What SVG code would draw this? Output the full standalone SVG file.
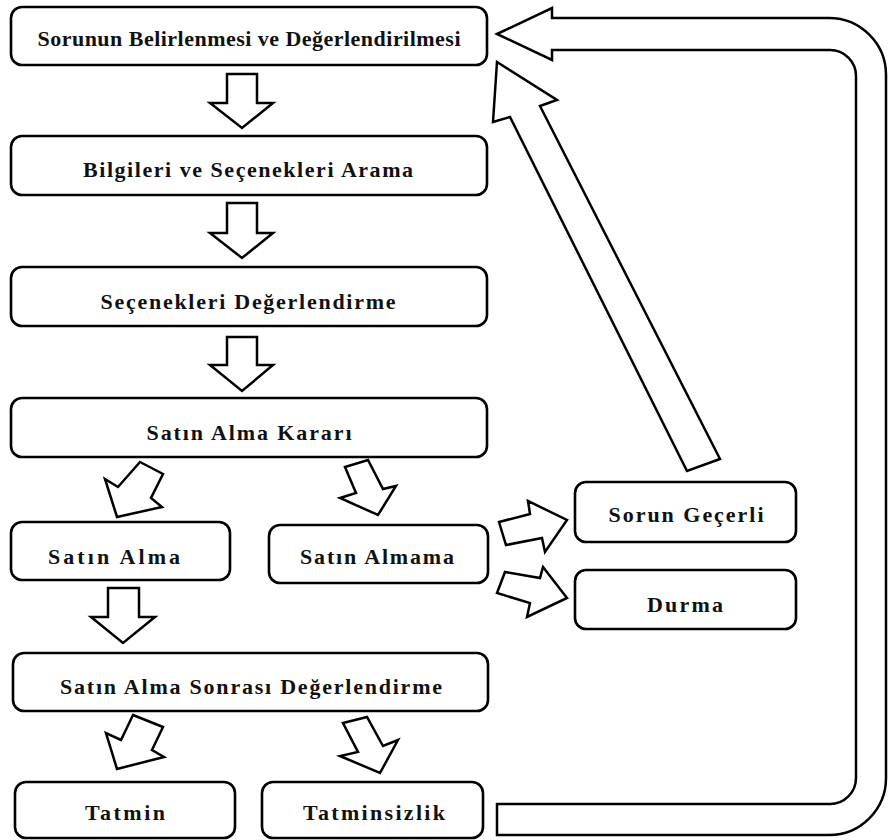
<svg xmlns="http://www.w3.org/2000/svg" width="888" height="840" viewBox="0 0 888 840">
  <style>
    .box { fill: #ffffff; stroke: #000000; stroke-width: 2.6; }
    .arrow { fill: #ffffff; stroke: #000000; stroke-width: 2.5; stroke-linejoin: miter; }
    .label { font-family: "Liberation Serif", "Times New Roman", serif; font-weight: bold; font-size: 22px; fill: #111111; text-anchor: middle; }
  </style>
  <rect width="888" height="840" fill="#ffffff"/>

  <!-- block arrows between the stages -->
  <g id="connectors">
    <polygon class="arrow" points="227,74 257,74 257,103 273,103 242,128 210,103 227,103"/>
    <polygon class="arrow" points="227,203 257,203 257,233 273,233 242,258 210,233 227,233"/>
    <polygon class="arrow" points="227,337 257,337 257,365 273,365 242,391 210,365 227,365"/>
    <!-- decision splits -->
    <polygon class="arrow" points="140,462 163,474 151,498 162,507 117,517 105,479 118,487"/>
    <polygon class="arrow" points="345,467 368,460 383,489 396,486 378,515 340,498 356,493"/>
    <!-- purchase to post-purchase evaluation -->
    <polygon class="arrow" points="108,588 139,588 139,617 155,617 123,643 91,617 108,617"/>
    <!-- post-purchase splits -->
    <polygon class="arrow" points="133,715 163,727 152,750 164,757 117,769 106,733 121,740"/>
    <polygon class="arrow" points="343,723 367,717 383,746 398,740 380,773 340,756 358,752"/>
    <!-- no-purchase outcomes -->
    <polygon class="arrow" points="499,522 530,514 528,501 567,520 545,552 542,538 506,545"/>
    <polygon class="arrow" points="505,572 540,578 543,567 567,598 527,617 530,603 497,593"/>
    <!-- valid problem feeds back to the start -->
    <polygon class="arrow" points="497,62 557,100 540,106 720,459 687,471 510,117 493,122"/>
    <!-- dissatisfaction loop back to the start -->
    <path class="arrow" d="M497,34 L552,8 L552,18 L829,18 A57,57 0 0 1 886,75 L886,778 A57,57 0 0 1 829,835 L497,835 L497,804 L830,804 A26,26 0 0 0 856,778 L856,76 A26,26 0 0 0 830,50 L552,50 L552,60 Z"/>
  </g>

  <g id="n1">
    <rect class="box" x="11" y="7" width="476" height="58" rx="11"/>
    <text class="label" x="249" y="46" textLength="423">Sorunun Belirlenmesi  ve Değerlendirilmesi</text>
  </g>
  <g id="n2">
    <rect class="box" x="11" y="136" width="476" height="59" rx="11"/>
    <text class="label" x="248" y="177" textLength="330">Bilgileri ve Seçenekleri Arama</text>
  </g>
  <g id="n3">
    <rect class="box" x="11" y="267" width="476" height="59" rx="11"/>
    <text class="label" x="248" y="309" textLength="295">Seçenekleri Değerlendirme</text>
  </g>
  <g id="n4">
    <rect class="box" x="11" y="398" width="476" height="59" rx="11"/>
    <text class="label" x="249" y="440" textLength="205">Satın Alma Kararı</text>
  </g>
  <g id="n5">
    <rect class="box" x="11" y="522" width="219" height="58" rx="11"/>
    <text class="label" x="114" y="564" textLength="132">Satın Alma</text>
  </g>
  <g id="n6">
    <rect class="box" x="269" y="525" width="219" height="58" rx="11"/>
    <text class="label" x="377" y="564" textLength="154">Satın Almama</text>
  </g>
  <g id="n7">
    <rect class="box" x="575" y="482" width="221" height="60" rx="11"/>
    <text class="label" x="686" y="522" textLength="155">Sorun Geçerli</text>
  </g>
  <g id="n8">
    <rect class="box" x="575" y="570" width="221" height="59" rx="11"/>
    <text class="label" x="685" y="612" textLength="76">Durma</text>
  </g>
  <g id="n9">
    <rect class="box" x="13" y="653" width="475" height="58" rx="11"/>
    <text class="label" x="251" y="694" textLength="382">Satın Alma Sonrası Değerlendirme</text>
  </g>
  <g id="n10">
    <rect class="box" x="15" y="782" width="220" height="56" rx="11"/>
    <text class="label" x="125" y="820" textLength="80">Tatmin</text>
  </g>
  <g id="n11">
    <rect class="box" x="262" y="782" width="221" height="56" rx="11"/>
    <text class="label" x="374" y="820" textLength="142">Tatminsizlik</text>
  </g>
</svg>
